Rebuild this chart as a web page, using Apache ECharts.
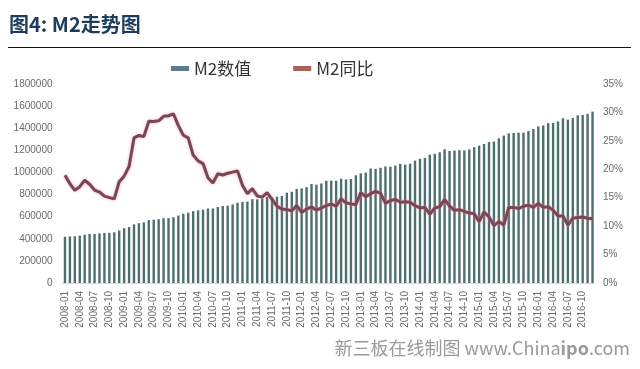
<!DOCTYPE html>
<html><head><meta charset="utf-8">
<script src="https://cdn.jsdelivr.net/npm/echarts@6/dist/echarts.min.js"></script>
<style>html,body{margin:0;padding:0;background:#fff;}#c{width:640px;height:369px;}</style>
</head><body><div id="c"></div>
<script>
const years = ['2008','2009','2010','2011','2012','2013','2014','2015','2016'];
const months = ['01','02','03','04','05','06','07','08','09','10','11','12'];
const categories = [];
years.forEach(y => months.forEach(m => categories.push(y + '-' + m)));

const m2Value = [
  417846,421037,423054,429314,436221,443141,442900,448846,452898,453133,458644,475167,
  496135,506708,530627,540481,548264,568916,571987,576699,585405,586643,594604,610225,
  625609,636073,649947,656561,663351,673922,674051,687506,696471,699776,710339,725852,
  733884,736130,758131,757385,763410,780821,772924,780853,787407,816829,825494,851591,
  855898,867171,895566,889605,900049,924991,925375,924894,943688,936403,940460,974149,
  992129,998600,1035859,1032552,1042169,1054404,1052212,1061256,1077379,1070242,1079257,1106525,
  1123521,1131760,1160687,1168812,1182300,1209588,1194249,1197499,1202051,1199236,1208606,1228375,
  1242710,1257384,1275333,1280000,1308701,1333375,1353211,1356900,1359824,1360000,1374900,1392278,
  1416300,1424600,1446200,1447000,1461700,1490500,1478000,1491600,1516400,1519500,1530400,1550100
];
const m2YoY = [
  18.94,17.48,16.29,16.94,18.07,17.37,16.35,16.0,15.29,15.02,14.8,17.82,
  18.79,20.48,25.51,25.95,25.74,28.46,28.42,28.53,29.31,29.42,29.74,27.68,
  25.98,25.52,22.5,21.48,21.0,18.5,17.6,19.2,19.0,19.3,19.5,19.72,
  17.2,15.7,16.6,15.3,15.1,15.9,14.7,13.5,13.0,12.9,12.7,13.61,
  12.4,13.0,13.4,12.8,13.2,13.6,13.9,13.5,14.8,14.1,13.9,13.8,
  15.9,15.2,15.7,16.1,15.8,14.0,14.5,14.7,14.2,14.3,14.2,13.6,
  13.2,13.3,12.1,13.2,13.4,14.7,13.5,12.8,12.9,12.6,12.3,12.2,
  10.8,12.5,11.6,10.1,10.8,10.2,13.3,13.3,13.1,13.5,13.7,13.3,
  14.0,13.3,13.4,12.8,11.8,11.8,10.2,11.4,11.5,11.6,11.4,11.3
];
const seriesNames = ['M2数值','M2同比'];
const titleText = '图4: M2走势图';

const chart = echarts.init(document.getElementById('c'));
const labelStyle = {color:'#6a6a6a', fontSize:10, fontFamily:'Liberation Sans, Arial, sans-serif'};
chart.setOption({
  animation:false,
  backgroundColor:'#fff',
  graphic:[
    {type:'text', left:9, top:14, style:{text:titleText, fontSize:20, fontWeight:'bold', fill:'#1d3c5c', fontFamily:'Noto Sans CJK SC'}},
    {type:'rect', shape:{x:8,y:47,width:623,height:1}, style:{fill:'#111'}},
    {type:'text', right:10, top:339, style:{rich:{a:{fontSize:18,fill:'#9a9a9a',fontFamily:'Noto Sans CJK SC'},b:{fontSize:18,fill:'#9a9a9a',fontWeight:'bold',fontFamily:'Noto Sans CJK SC'}}, text:'{a|新三板在线制图 www.China}{b|ipo}{a|.com}'}}
  ],
  legend:{
    top:55, left:166, itemWidth:18, itemHeight:5, itemGap:42, icon:'rect',
    textStyle:{fontSize:17, color:'#333', fontFamily:'Noto Sans CJK SC'},
    data:[{name:seriesNames[0], itemStyle:{color:'#5b7b90'}},{name:seriesNames[1], itemStyle:{color:'#a8625a'}}]
  },
  grid:{left:62.5, right:45, top:84, bottom:86},
  xAxis:{
    type:'category', data:categories, boundaryGap:true,
    axisLine:{show:true, lineStyle:{color:'#d9d9d9'}}, axisTick:{show:false},
    axisLabel:Object.assign({rotate:90, interval:2, margin:8}, labelStyle)
  },
  yAxis:[
    {type:'value', min:0, max:1800000, interval:200000, splitLine:{show:false}, axisLine:{show:false}, axisTick:{show:false}, axisLabel:Object.assign({margin:10, formatter:v => String(v)}, labelStyle)},
    {type:'value', min:0, max:35, interval:5, splitLine:{show:false}, axisLine:{show:false}, axisTick:{show:false}, axisLabel:Object.assign({formatter:'{value}%', margin:8}, labelStyle)}
  ],
  series:[
    {name:seriesNames[0], type:'bar', data:m2Value, yAxisIndex:0, barWidth:2.4, itemStyle:{color:'#4d6f70'}},
    {name:seriesNames[1], type:'line', data:m2YoY, yAxisIndex:1, symbol:'none', smooth:false,
     lineStyle:{color:'#7a4655', width:3, shadowColor:'rgba(235,130,140,0.7)', shadowBlur:3}, itemStyle:{color:'#7a4655'}}
  ]
});
</script></body></html>
